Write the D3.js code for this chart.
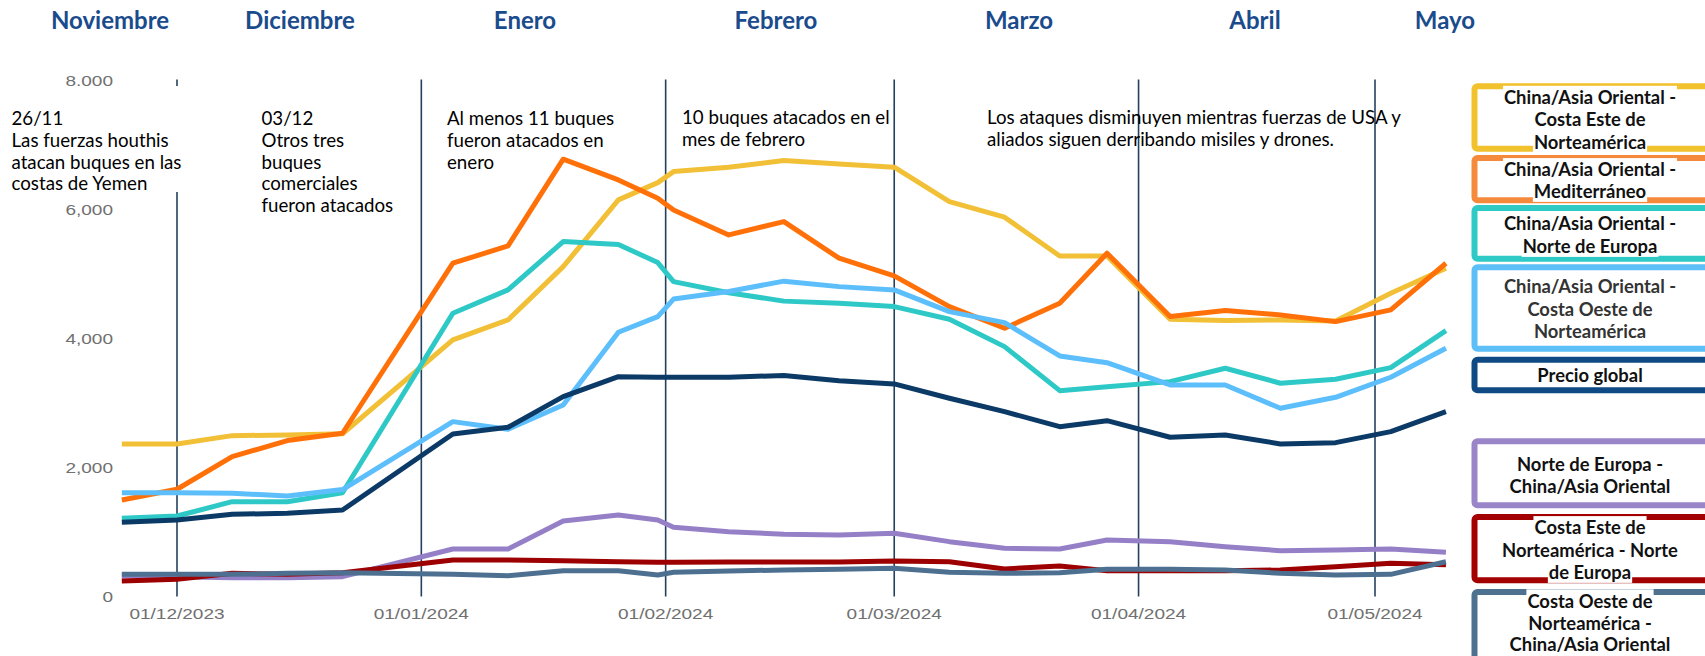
<!DOCTYPE html>
<html>
<head>
<meta charset="utf-8">
<script src="https://cdn.jsdelivr.net/npm/d3@7"></script>
<style>
  body { margin: 0; background: #fff; }
  svg { display: block; }
</style>
</head>
<body>
<svg id="chart" width="1705" height="656"></svg>
<script>
// ---------------- DATA ----------------
const dates = ["2023-11-24","2023-12-01","2023-12-08","2023-12-15","2023-12-22","2024-01-05","2024-01-12","2024-01-19","2024-01-26","2024-01-31","2024-02-02","2024-02-09","2024-02-16","2024-02-23","2024-03-01","2024-03-08","2024-03-15","2024-03-22","2024-03-28","2024-04-05","2024-04-12","2024-04-19","2024-04-26","2024-05-03","2024-05-10"];

const seriesNames = [
  "China/Asia Oriental - Costa Este de Norteamérica",
  "China/Asia Oriental - Mediterráneo",
  "China/Asia Oriental - Norte de Europa",
  "China/Asia Oriental - Costa Oeste de Norteamérica",
  "Precio global",
  "Norte de Europa - China/Asia Oriental",
  "Costa Este de Norteamérica - Norte de Europa",
  "Costa Oeste de Norteamérica - China/Asia Oriental"
];

const chinaCostaEste = [2367, 2367, 2496, 2506, 2525, 3981, 4291, 5118, 6154, 6422, 6593, 6661, 6764, 6712, 6661, 6127, 5885, 5284, 5284, 4302, 4281, 4291, 4276, 4706, 5094];
const chinaMediterraneo = [1498, 1664, 2170, 2419, 2533, 5171, 5440, 6785, 6464, 6180, 5998, 5610, 5817, 5249, 4974, 4498, 4162, 4550, 5326, 4343, 4436, 4369, 4265, 4447, 5171];
const chinaNorteEuropa = [1213, 1249, 1471, 1471, 1610, 4395, 4757, 5507, 5463, 5181, 4886, 4712, 4583, 4550, 4498, 4302, 3877, 3194, 3256, 3334, 3541, 3309, 3371, 3551, 4125];
const chinaCostaOeste = [1611, 1611, 1601, 1560, 1660, 2713, 2595, 2972, 4100, 4343, 4615, 4733, 4893, 4808, 4757, 4420, 4249, 3732, 3628, 3282, 3282, 2921, 3091, 3402, 3852];
const precioGlobal = [1151, 1187, 1276, 1291, 1342, 2522, 2626, 3101, 3411, 3402, 3402, 3402, 3430, 3349, 3298, 3076, 2868, 2635, 2728, 2471, 2506, 2367, 2387, 2558, 2868];
const norteEuropaChina = [318, 308, 292, 292, 308, 737, 737, 1172, 1265, 1187, 1074, 1006, 965, 955, 981, 851, 748, 737, 877, 851, 773, 711, 722, 737, 686];
const costaEsteNorteEuropa = [241, 267, 360, 344, 370, 566, 566, 556, 540, 530, 530, 535, 535, 535, 551, 540, 427, 473, 401, 401, 401, 411, 463, 515, 494];
const costaOesteChina = [344, 344, 344, 360, 370, 344, 323, 401, 401, 334, 375, 396, 411, 422, 437, 375, 360, 370, 422, 422, 411, 360, 334, 344, 540];

const monthLines = ["2023-12-01","2024-01-01","2024-02-01","2024-03-01","2024-04-01","2024-05-01"];
const yTicks = [0, 2000, 4000, 6000, 8000];
const yTickLabels = ["0", "2,000", "4,000", "6,000", "8.000"];
const monthHeaders = ["Noviembre","Diciembre","Enero","Febrero","Marzo","Abril","Mayo"];

const annotations = [
  ["26/11", "Las fuerzas houthis", "atacan buques en las", "costas de Yemen"],
  ["03/12", "Otros tres", "buques", "comerciales", "fueron atacados"],
  ["Al menos 11 buques", "fueron atacados en", "enero"],
  ["10 buques atacados en el", "mes de febrero"],
  ["Los ataques disminuyen mientras fuerzas de USA y", "aliados siguen derribando misiles y drones."]
];

const legendLines = [
  ["China/Asia Oriental -", "Costa Este de", "Norteamérica"],
  ["China/Asia Oriental -", "Mediterráneo"],
  ["China/Asia Oriental -", "Norte de Europa"],
  ["China/Asia Oriental -", "Costa Oeste de", "Norteamérica"],
  ["Precio global"],
  ["Norte de Europa -", "China/Asia Oriental"],
  ["Costa Este de", "Norteamérica - Norte", "de Europa"],
  ["Costa Oeste de", "Norteamérica -", "China/Asia Oriental"]
];

// ---------------- STYLE / LAYOUT ----------------
const seriesValues = [chinaCostaEste, chinaMediterraneo, chinaNorteEuropa, chinaCostaOeste, precioGlobal, norteEuropaChina, costaEsteNorteEuropa, costaOesteChina];
const lineColors = ["#f2c037", "#ff7008", "#2ec9c6", "#5dbefc", "#0c3a66", "#9580c8", "#9c0000", "#4d7090"];
const legendColors = ["#f2c12e", "#f68a3c", "#2fcac6", "#5cbff7", "#0f4a84", "#9a85c9", "#a30000", "#4f7190"];
const legendTextColors = ["#111","#111","#111","#333","#111","#111","#111","#111"];
const legendBoxes = [[83.3,151.7],[155,203.3],[205,261.7],[264.3,351.7],[356.7,393.3],[438.3,508.3],[514,583.3],[589,672]];
const legendLineY = [[97,119.3,141.7],[169.3,190.7],[223.3,245.7],[286,309,330.7],[375],[464,485.7],[527.3,550,571.7],[600.5,622.5,644.3]];
const monthHeaderX = [110, 300, 525, 776, 1019, 1255, 1445];
const annotationPos = [[11.5, 118], [261.5, 118], [447, 118], [682, 117], [987, 117]];
const annotLineH = 21.8;

const parse = d3.utcParse("%Y-%m-%d");
const fmt = d3.utcFormat("%d/%m/%Y");

const svg = d3.select("#chart");

const x = d3.scaleUtc()
  .domain([parse("2023-12-01"), parse("2024-05-01")])
  .range([177, 1375]);
const y = d3.scaleLinear().domain([0, 8000]).range([596.5, 80.9]);

const axisFont = "'Liberation Sans', Arial, sans-serif";
const stretch = 1.27;

// Y tick labels (stretched horizontally like the source image)
svg.append("g").selectAll("text")
  .data(yTicks)
  .join("text")
  .attr("transform", (d) => `translate(113,${y(d)}) scale(${stretch},1)`)
  .attr("text-anchor", "end")
  .attr("dominant-baseline", "central")
  .attr("font-family", axisFont)
  .attr("font-size", 15)
  .attr("fill", "#707070")
  .text((d, i) => yTickLabels[i]);

// X tick labels
svg.append("g").selectAll("text")
  .data(monthLines.map(parse))
  .join("text")
  .attr("transform", (d) => `translate(${x(d)},613.5) scale(${stretch},1)`)
  .attr("text-anchor", "middle")
  .attr("dominant-baseline", "central")
  .attr("font-family", axisFont)
  .attr("font-size", 15)
  .attr("fill", "#707070")
  .text((d) => fmt(d));

// Month separator lines
svg.append("g").selectAll("line")
  .data(monthLines.map(parse))
  .join("line")
  .attr("x1", (d) => x(d)).attr("x2", (d) => x(d))
  .attr("y1", y(8000) - 1.5).attr("y2", y(0))
  .attr("stroke", "#24405f")
  .attr("stroke-width", 1.6);

// Annotations
const annG = svg.append("g")
  .attr("font-family", "Lato, 'Open Sans', sans-serif")
  .attr("font-size", 18.7)
  .attr("fill", "#000");

annotations.forEach((lines, i) => {
  const [ax, ay] = annotationPos[i];
  const g = annG.append("g");
  if (i === 0) {
    g.append("rect")
      .attr("x", 0).attr("y", 86)
      .attr("width", 184).attr("height", 106)
      .attr("fill", "#fff");
  }
  g.selectAll("text")
    .data(lines)
    .join("text")
    .attr("x", ax)
    .attr("y", (d, j) => ay + j * annotLineH)
    .attr("dominant-baseline", "central")
    .text((d) => d);
});

// Data lines
const lineGen = d3.line()
  .x((d, i) => x(parse(dates[i])))
  .y((d) => y(d));

svg.append("g").selectAll("path")
  .data(seriesValues)
  .join("path")
  .attr("d", (d) => lineGen(d))
  .attr("fill", "none")
  .attr("stroke", (d, i) => lineColors[i])
  .attr("stroke-width", 5)
  .attr("stroke-linejoin", "round")
  .attr("stroke-linecap", "butt");

// Month headers
svg.append("g").selectAll("text")
  .data(monthHeaders)
  .join("text")
  .attr("x", (d, i) => monthHeaderX[i])
  .attr("y", 29)
  .attr("text-anchor", "middle")
  .attr("font-family", "Lato, sans-serif")
  .attr("font-weight", 700)
  .attr("font-size", 24)
  .attr("fill", "#1a4b8c")
  .text((d) => d);

// Legend
const legG = svg.append("g");
const legX = 1474.5, legRight = 1708;
legendLines.forEach((lines, i) => {
  const [top, bottom] = legendBoxes[i];
  const g = legG.append("g").attr("aria-label", seriesNames[i]);
  g.append("rect")
    .attr("x", legX).attr("y", top + 3)
    .attr("width", legRight - legX).attr("height", bottom - top - 6)
    .attr("rx", 3)
    .attr("fill", "#fff")
    .attr("stroke", legendColors[i])
    .attr("stroke-width", 6);
  const cx = 1590;
  lines.forEach((t, j) => {
    const cy = legendLineY[i][j];
    const txt = g.append("text")
      .attr("x", cx).attr("y", cy)
      .attr("text-anchor", "middle")
      .attr("dominant-baseline", "central")
      .attr("font-family", "Lato, sans-serif")
      .attr("font-weight", 700)
      .attr("font-size", 18.4)
      .attr("fill", legendTextColors[i])
      .text(t);
    const w = txt.node().getComputedTextLength();
    g.insert("rect", function () { return txt.node(); })
      .attr("x", cx - w / 2 - 1).attr("y", cy - 11.2)
      .attr("width", w + 2).attr("height", 22.4)
      .attr("fill", "#fff");
  });
});
</script>
</body>
</html>
